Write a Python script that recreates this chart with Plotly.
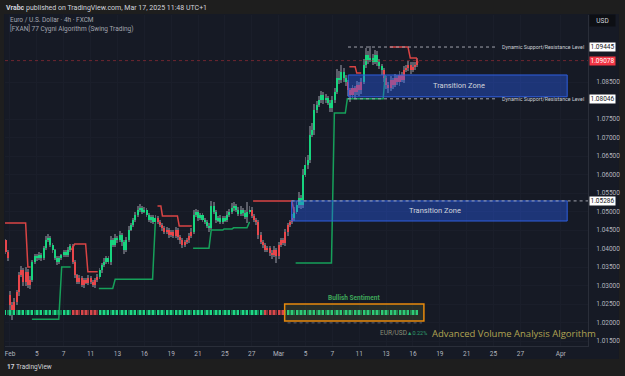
import plotly.graph_objects as go

# ---------------- data ----------------
first_open = 1.0423
gap_opens = {2: 1.0274}
closes = [
    1.0391, 1.0374, 1.0247, 1.0234, 1.0255, 1.0282, 1.0328, 1.0342, 1.0310, 1.0337,
    1.0301, 1.0315, 1.0364, 1.0380, 1.0374, 1.0382, 1.0374, 1.0401, 1.0423, 1.0428,
    1.0410, 1.0396, 1.0374, 1.0364, 1.0374, 1.0382, 1.0391, 1.0382, 1.0396, 1.0407,
    1.0364, 1.0328, 1.0310, 1.0320, 1.0301, 1.0315, 1.0307, 1.0320, 1.0310, 1.0301,
    1.0315, 1.0323, 1.0342, 1.0355, 1.0364, 1.0374, 1.0364, 1.0423, 1.0410, 1.0428,
    1.0423, 1.0437, 1.0418, 1.0396, 1.0423, 1.0450, 1.0464, 1.0477, 1.0491, 1.0504,
    1.0510, 1.0499, 1.0504, 1.0491, 1.0477, 1.0485, 1.0472, 1.0482, 1.0472, 1.0464,
    1.0455, 1.0445, 1.0450, 1.0437, 1.0445, 1.0434, 1.0450, 1.0431, 1.0423, 1.0410,
    1.0418, 1.0423, 1.0434, 1.0445, 1.0491, 1.0499, 1.0482, 1.0491, 1.0477, 1.0472,
    1.0461, 1.0455, 1.0515, 1.0499, 1.0477, 1.0482, 1.0472, 1.0482, 1.0477, 1.0491,
    1.0499, 1.0510, 1.0515, 1.0504, 1.0493, 1.0504, 1.0496, 1.0485, 1.0499, 1.0504,
    1.0488, 1.0477, 1.0472, 1.0437, 1.0418, 1.0410, 1.0396, 1.0401, 1.0388, 1.0382,
    1.0396, 1.0380, 1.0410, 1.0423, 1.0415, 1.0445, 1.0464, 1.0472, 1.0482, 1.0499,
    1.0518, 1.0536, 1.0518, 1.0599, 1.0626, 1.0639, 1.0707, 1.0720, 1.0774, 1.0788,
    1.0801, 1.0815, 1.0801, 1.0807, 1.0793, 1.0780, 1.0801, 1.0823, 1.0861, 1.0855,
    1.0877, 1.0861, 1.0850, 1.0828, 1.0815, 1.0834, 1.0823, 1.0842, 1.0828, 1.0850,
    1.0896, 1.0923, 1.0910, 1.0915, 1.0904, 1.0923, 1.0904, 1.0893, 1.0882, 1.0861,
    1.0842, 1.0834, 1.0855, 1.0842, 1.0861, 1.0850, 1.0869, 1.0855, 1.0882, 1.0888,
    1.0896, 1.0882, 1.0891, 1.0896, 1.0908,
]
upper_wick_pips = [
    3, 6, 12, 8, 10, 6, 8, 10, 6, 12,
    8, 10, 6, 5, 6, 8, 5, 6, 10, 12,
    6, 5, 4, 6, 5, 4, 6, 5, 8, 6,
    5, 6, 4, 8, 5, 6, 4, 8, 5, 6,
    5, 8, 6, 5, 10, 6, 5, 12, 6, 10,
    6, 10, 5, 6, 8, 10, 6, 5, 8, 12,
    10, 6, 8, 5, 6, 5, 6, 8, 5, 6,
    5, 6, 8, 5, 6, 4, 8, 5, 6, 5,
    6, 5, 8, 10, 12, 8, 6, 5, 6, 5,
    6, 8, 14, 10, 6, 5, 8, 6, 5, 10,
    8, 14, 10, 6, 8, 12, 6, 8, 27, 10,
    8, 6, 5, 6, 8, 5, 6, 5, 6, 8,
    10, 6, 8, 5, 6, 8, 6, 5, 10, 12,
    10, 18, 8, 15, 20, 14, 25, 20, 16, 10,
    12, 10, 8, 10, 6, 8, 12, 10, 25, 20,
    18, 10, 8, 6, 5, 8, 6, 10, 8, 12,
    15, 20, 12, 32, 10, 14, 12, 8, 6, 5,
    6, 8, 12, 6, 10, 8, 12, 8, 10, 8,
    10, 8, 12, 8, 6,
]
lower_wick_pips = [
    5, 8, 30, 27, 15, 8, 10, 6, 12, 10,
    8, 10, 6, 5, 8, 6, 8, 5, 6, 5,
    6, 8, 5, 8, 6, 5, 6, 5, 4, 6,
    6, 8, 5, 6, 5, 8, 4, 5, 6, 5,
    8, 5, 6, 8, 5, 6, 5, 8, 6, 5,
    8, 6, 10, 12, 6, 5, 4, 6, 5, 6,
    5, 6, 4, 5, 6, 8, 5, 6, 5, 6,
    8, 5, 6, 8, 5, 6, 5, 8, 10, 8,
    6, 5, 8, 6, 5, 6, 8, 5, 6, 5,
    6, 10, 5, 6, 8, 5, 6, 5, 6, 5,
    6, 5, 8, 6, 5, 6, 8, 5, 16, 6,
    5, 6, 8, 10, 6, 8, 5, 6, 8, 10,
    6, 19, 8, 6, 5, 8, 10, 6, 5, 8,
    6, 8, 10, 8, 6, 10, 8, 6, 12, 8,
    6, 8, 10, 8, 6, 12, 10, 8, 6, 10,
    8, 10, 12, 15, 18, 10, 20, 8, 15, 10,
    6, 8, 10, 6, 8, 5, 10, 8, 12, 10,
    12, 15, 8, 10, 6, 8, 10, 6, 8, 6,
    8, 10, 6, 8, 5,
]
# trend regime per bar range (inclusive)
regimes = [(0, 11, "bear"), (12, 29, "bull"), (30, 41, "bear"), (42, 67, "bull"),
           (68, 83, "bear"), (84, 109, "bull"), (110, 128, "bear"), (129, 152, "bull"),
           (153, 159, "bear"), (160, 168, "bull"), (169, 184, "bear")]
sentiment = [(0, 29, "bull"), (30, 41, "bear"), (42, 115, "bull"), (116, 124, "bear"), (125, 184, "bull")]

# trailing resistance (red) and support (green) lines: bar index, price
res_k = [-0.22, 9, 10, 11.2, None, 29.4, 30.9, 35.8, 36.8, 41.2, None,
         67.9, 69.4, 70.1, 76.8, 77.6, 83.2, None, 110.6, 127.9, 129.1, None,
         153.6, 156.2, 156.9, 158.9, None, 171.6, 179.8, 180.8, 183.5, 184.2]
res_p = [1.0469, 1.0469, 1.0350, 1.0350, None, 1.0396, 1.0412, 1.0412, 1.0337, 1.0337, None,
         1.0515, 1.0515, 1.0488, 1.0488, 1.0461, 1.0461, None, 1.05286, 1.05286, 1.0496, None,
         1.0891, 1.0891, 1.0874, 1.0874, None, 1.09445, 1.09445, 1.0915, 1.0915, 1.0902]
sup_k = [11.8, 23.8, 25.1, 29.1, None, 41.7, 47.9, 49.0, 65.7, 66.9, None,
         83.8, 90.9, 91.9, 97.1, 97.6, 101.2, 101.9, 107.9, 109.0, None,
         129.6, 145.6, 146.9, 151.8, 152.7, 168.7, 169.6]
sup_p = [1.0209, 1.0209, 1.0350, 1.0350, None, 1.0292, 1.0292, 1.0317, 1.0317, 1.0468, None,
         1.0401, 1.0401, 1.0450, 1.0450, 1.0453, 1.0453, 1.0456, 1.0456, 1.0472, None,
         1.0361, 1.0361, 1.0766, 1.0766, 1.08046, 1.08046, 1.0869]

levels = [1.09445, 1.08046, 1.05286]
last_price = 1.09078
zones = [(153.1, 250.9, 1.0810, 1.0869), (127.8, 250.9, 1.04743, 1.05286)]
zone_label_k = [202.4, 191.8]
sent_box = (124.7, 186.9, 1.02041, 1.0250)

tick_k = [2, 14, 26, 38, 50, 62, 74, 86, 98, 110, 122, 134, 146, 158, 170, 182, 194, 206, 218, 230, 248]
tick_txt = ["Feb", "5", "7", "11", "13", "16", "19", "21", "25", "27", "Mar",
            "5", "7", "11", "13", "16", "19", "21", "25", "27", "Apr"]
price_ticks = [1.015, 1.020, 1.025, 1.030, 1.035, 1.040, 1.045, 1.050, 1.055,
               1.060, 1.065, 1.070, 1.075, 1.085]

# ---------------- derived ----------------
n = len(closes)
ks = list(range(n))
opens = [first_open] + closes[:-1]
for k, v in gap_opens.items():
    opens[k] = v
highs = [max(o, c) + u * 0.0001 for o, c, u in zip(opens, closes, upper_wick_pips)]
lows = [min(o, c) - d * 0.0001 for o, c, d in zip(opens, closes, lower_wick_pips)]

def state_of(k, segs):
    for a, b, s in segs:
        if a <= k <= b:
            return s
    return "bull"

GREEN = "#17d47e"
RED = "#e8464b"
body_col = [GREEN if state_of(k, regimes) == "bull" else RED for k in ks]

base = [min(o, c) for o, c in zip(opens, closes)]
hgt = [max(abs(c - o), 0.00008) for o, c in zip(opens, closes)]

sent_col = []
for k in ks:
    s = state_of(k, sentiment)
    if s == "bull":
        sent_col.append("#1fd886" if k % 2 == 0 else "#137a4f")
    else:
        sent_col.append("#d9474b" if k % 2 == 0 else "#7d3236")

fig = go.Figure()
# wicks (drawn as thin bars so they sit under the bodies)
fig.add_trace(go.Bar(x=ks, y=[h - l for h, l in zip(highs, lows)], base=lows, width=0.42,
                     marker=dict(color="#5a5d68", line=dict(width=0))))
# bodies
fig.add_trace(go.Bar(x=ks, y=hgt, base=base, width=0.9, marker=dict(color=body_col, line=dict(width=0))))
# sentiment ticks
fig.add_trace(go.Bar(x=ks, y=[0.0014] * n, base=[1.0220] * n, width=0.45,
                     marker=dict(color=sent_col, line=dict(width=0))))
fig.add_trace(go.Scatter(x=res_k, y=res_p, mode="lines", line=dict(color="#d94444", width=1.5)))
fig.add_trace(go.Scatter(x=sup_k, y=sup_p, mode="lines", line=dict(color="#16a05a", width=1.5)))

XMIN, XMAX = -0.22, 260.2
YMIN, YMAX = 1.013649, 1.103108

def xp(px):
    return (px - 5) / 586.0

def yp(py):
    return (346 - py) / 331.0

shapes = []
shapes.append(dict(type="rect", xref="paper", yref="paper", x0=xp(4), x1=xp(622), y0=yp(359), y1=yp(14),
                   fillcolor="#161a25", line=dict(width=0), layer="below"))
for x0, x1, y0, y1 in zones:
    shapes.append(dict(type="rect", x0=x0, x1=x1, y0=y0, y1=y1, xref="x", yref="y",
                       fillcolor="rgba(41,98,255,0.38)", line=dict(color="#2f5fe0", width=1), layer="above"))
shapes.append(dict(type="rect", x0=sent_box[0], x1=sent_box[1], y0=sent_box[2], y1=sent_box[3],
                   fillcolor="rgba(120,140,60,0.18)", line=dict(color="#e8890c", width=1.5), layer="above"))
shapes.append(dict(type="line", x0=126, x1=186, y0=1.0199, y1=1.0199,
                   line=dict(color="#5d606b", width=1, dash="dot")))
shapes.append(dict(type="line", xref="paper", x0=0, x1=1, yref="y", y0=last_price, y1=last_price,
                   line=dict(color="rgba(200,50,60,0.5)", width=1, dash="3px,3px")))
shapes.append(dict(type="line", x0=153, x1=219, y0=levels[0], y1=levels[0],
                   line=dict(color="#a0a3ad", width=1, dash="dot")))
shapes.append(dict(type="line", x0=153, x1=219, y0=levels[1], y1=levels[1],
                   line=dict(color="#a0a3ad", width=1, dash="dot")))
shapes.append(dict(type="line", x0=127.8, x1=XMAX, y0=levels[2], y1=levels[2],
                   line=dict(color="#a0a3ad", width=1, dash="dot")))

FONT = "Roboto"

def A(**kw):
    kw.setdefault("showarrow", False)
    kw.setdefault("xanchor", "center")
    kw.setdefault("yanchor", "middle")
    return kw

ann = []
ann.append(A(xref="paper", yref="paper", x=xp(4), y=yp(8), xanchor="left",
             text="<b>Vrabc</b> published on TradingView.com, Mar 17, 2025 11:48 UTC+1",
             font=dict(family=FONT, size=7, color="#d1d4dc")))
ann.append(A(xref="paper", yref="paper", x=xp(8), y=yp(20), xanchor="left",
             text="Euro / U.S. Dollar · 4h · FXCM",
             font=dict(family=FONT, size=6.5, color="#a3a6af")))
ann.append(A(xref="paper", yref="paper", x=xp(8), y=yp(28), xanchor="left",
             text="[FXAN] 77 Cygni Algorithm (Swing Trading)",
             font=dict(family=FONT, size=6.5, color="#a3a6af")))
for lv in levels[:2]:
    ann.append(A(x=221, y=lv, xanchor="left", text="Dynamic Support/Resistance Level",
                 font=dict(family=FONT, size=5.3, color="#c9ccd4")))
for (x0, x1, y0, y1), lk in zip(zones, zone_label_k):
    ann.append(A(x=lk, y=(y0 + y1) / 2, text="Transition Zone",
                 font=dict(family=FONT, size=7.5, color="#d1d4dc")))
ann.append(A(x=(sent_box[0] + sent_box[1]) / 2, y=1.0266, text="<b>Bullish Sentiment</b>",
             font=dict(family=FONT, size=6.5, color="#3fa65a")))
ann.append(A(xref="paper", yref="paper", x=xp(396), y=yp(333), text="EUR/USD",
             font=dict(family=FONT, size=6.5, color="#8a8d78")))
ann.append(A(xref="paper", yref="paper", x=xp(419), y=yp(333), text="▲0.22%",
             font=dict(family=FONT, size=5.5, color="#2e9e6e")))
ann.append(A(xref="paper", yref="paper", x=xp(432), y=yp(333), xanchor="left",
             text="Advanced Volume Analysis Algorithm",
             font=dict(family="Open Sans", size=9.5, color="#b0a352")))
ann.append(A(xref="paper", yref="paper", x=xp(606), y=yp(21), text="USD",
             bgcolor="#0d0f14", width=25, height=11, borderpad=0,
             font=dict(family=FONT, size=6.5, color="#d1d4dc")))
for lv, bg, fc in [(levels[0], "#ffffff", "#131722"), (last_price, "#f23645", "#ffffff"),
                   (levels[1], "#ffffff", "#131722"), (levels[2], "#ffffff", "#131722")]:
    ann.append(A(xref="paper", yref="y", x=xp(606), y=lv, text=f"{lv:.5f}",
                 bgcolor=bg, width=25, height=8, borderpad=0,
                 font=dict(family=FONT, size=6.5, color=fc)))
ann.append(A(xref="paper", yref="paper", x=xp(5), y=yp(367), xanchor="left",
             text="<b>17</b> TradingView",
             font=dict(family=FONT, size=6.5, color="#d1d4dc")))

fig.update_layout(
    width=625, height=376,
    margin=dict(l=5, r=34, t=15, b=30),
    paper_bgcolor="#1e1e1e", plot_bgcolor="#161a25",
    showlegend=False, barmode="overlay", hovermode=False,
    shapes=shapes, annotations=ann, bargap=0,
    xaxis=dict(range=[XMIN, XMAX], tickmode="array", tickvals=tick_k, ticktext=tick_txt,
               showgrid=True, gridcolor="#1a1e2a", zeroline=False, showline=True,
               linecolor="#2a2e39", ticks="", ticklabelstandoff=1,
               tickfont=dict(family=FONT, size=6.5, color="#b2b5be")),
    yaxis=dict(range=[YMIN, YMAX], side="right", tickmode="array", tickvals=price_ticks,
               ticktext=[f"{v:.5f}" for v in price_ticks],
               showgrid=True, gridcolor="#1a1e2a", zeroline=False, showline=True,
               linecolor="#2a2e39", ticks="", ticklabelstandoff=6,
               tickfont=dict(family=FONT, size=6.5, color="#b2b5be")),
)

fig.write_html("out.html")
